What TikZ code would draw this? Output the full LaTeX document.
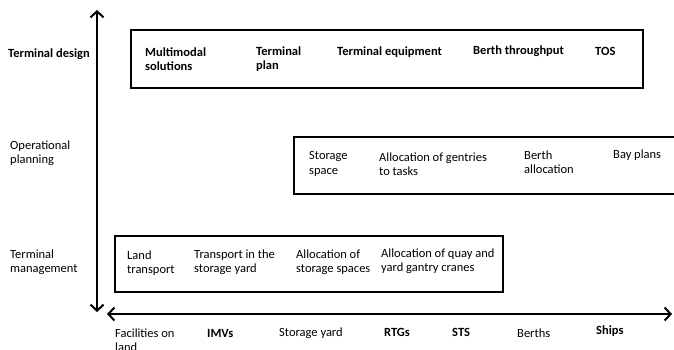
\documentclass[tikz,border=0pt]{standalone}
\usepackage{fontspec}
\setmainfont{Carlito}
\usetikzlibrary{arrows.meta}

\begin{document}
\begin{tikzpicture}[x=1pt,y=-1pt,
    lbl/.style={anchor=west,align=left,inner sep=0pt,font=\fontsize{12.5}{14.5}\selectfont},
    bl/.style={lbl,font=\fontsize{12.5}{14.5}\selectfont\bfseries},
    box/.style={line width=2pt},
    axis/.style={line width=2pt,{Straight Barb[length=6pt,width=13pt,line width=2pt]}-{Straight Barb[length=6pt,width=13pt,line width=2pt]}}]
    \useasboundingbox (0,0) rectangle (674,349);
    % axes
        \coordinate (vtop) at (97,10);
        \coordinate (vbot) at (97,312);
        \coordinate (hleft) at (107,314);
        \coordinate (hright) at (672,314);
        \draw[axis] (vbot) -- (vtop);
        \draw[axis] (hleft) -- (hright);
    % levels
        \node[bl] (design) at (8,54) {Terminal design};
        \node[lbl] (oper) at (10,153) {Operational\\planning};
        \node[lbl] (manage) at (10,262) {Terminal\\management};
    % boxes
        \draw[box] (131,30) rectangle (643,88);
        \draw[box] (294,137) rectangle (680,194);
        \draw[box] (115,236) rectangle (503,292);
    % terminal design
        \node[bl] (multi) at (145,59) {Multimodal\\solutions};
        \node[bl] (tplan) at (256,59) {Terminal\\plan};
        \node[bl] (tequip) at (337,52) {Terminal equipment};
        \node[bl] (berthtp) at (473,51) {Berth throughput};
        \node[bl] (tos) at (595,51) {TOS};
    % operational planning
        \node[lbl] (storsp) at (309,164) {Storage\\space};
        \node[lbl] (gentry) at (379,164) {Allocation of gentries\\to tasks};
        \node[lbl] (berthal) at (524,162) {Berth\\allocation};
        \node[lbl] (bay) at (613,155) {Bay plans};
    % terminal management
        \node[lbl] (land) at (127,263) {Land\\transport};
        \node[lbl] (yardtr) at (194,262) {Transport in the\\storage yard};
        \node[lbl] (storal) at (296,262) {Allocation of\\storage spaces};
        \node[lbl] (quay) at (381,261) {Allocation of quay and\\yard gantry cranes};
    % resources
        \node[lbl] (fac) at (115,340) {Facilities on\\land};
        \node[bl] (imv) at (207,333) {IMVs};
        \node[lbl] (yard) at (279,333) {Storage yard};
        \node[bl] (rtg) at (384,332) {RTGs};
        \node[bl] (sts) at (452,332) {STS};
        \node[lbl] (berths) at (517,333) {Berths};
        \node[bl] (ships) at (596,331) {Ships};
\end{tikzpicture}
\end{document}
